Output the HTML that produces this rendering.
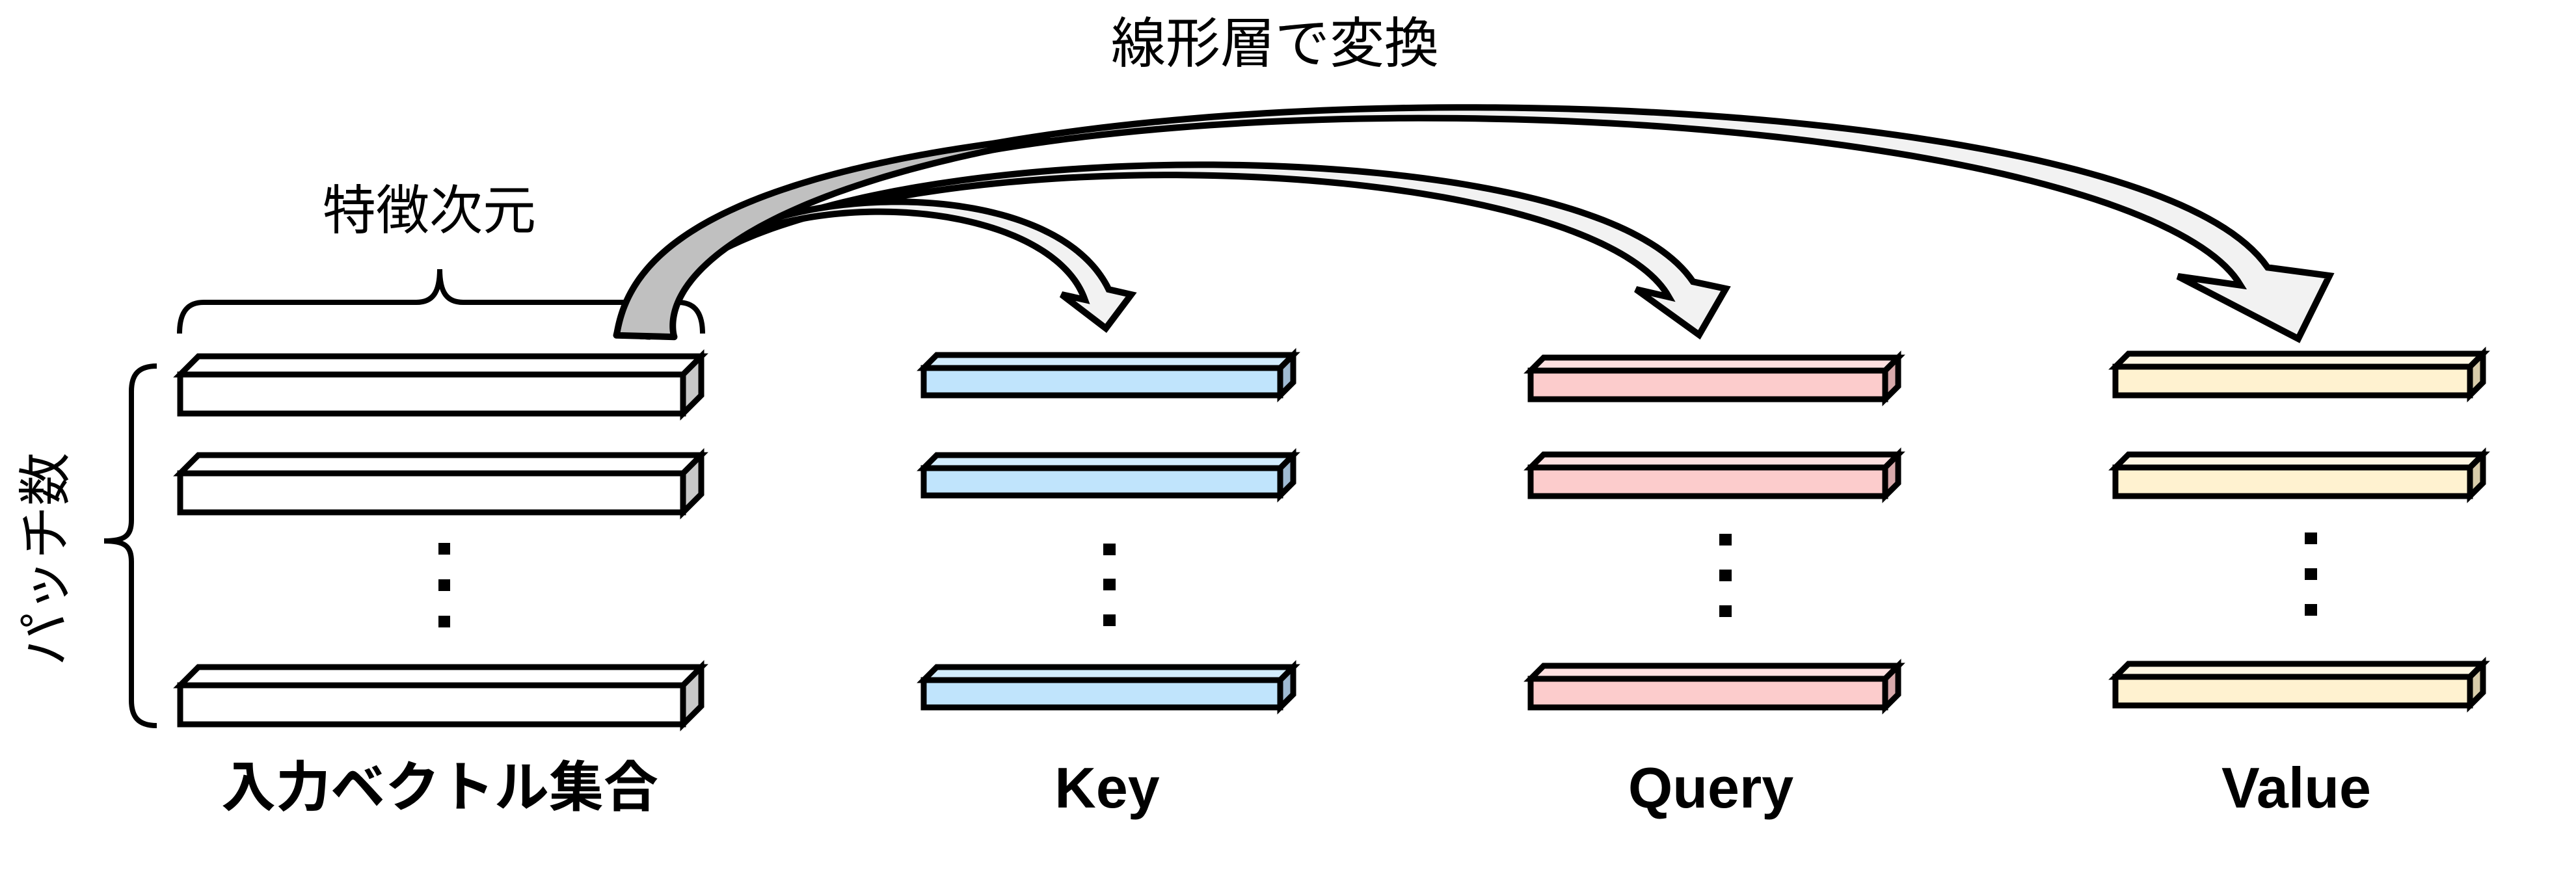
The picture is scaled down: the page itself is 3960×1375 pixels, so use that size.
<!DOCTYPE html>
<html><head><meta charset="utf-8"><style>
html,body{margin:0;padding:0;background:#fff;}
svg{display:block;}
text{font-family:"Liberation Sans","Noto Sans CJK JP",sans-serif;fill:#000;}
</style></head><body>
<svg id="s" width="3960" height="1375" viewBox="0 0 3960 1375" xmlns="http://www.w3.org/2000/svg">
<rect width="3960" height="1375" fill="#fff"/>
<!-- braces -->
<path d="M276,513 C276,480 288,465 313,465 L640,465 C665,465 676,450 676,414 C676,450 687,465 712,465 L1042,465 C1067,465 1080,480 1080,513" fill="none" stroke="#000" stroke-width="8"/>
<path d="M241,563 C212,563 202,577 202,602 L202,800 C202,824 192,832 160,832 C192,832 202,840 202,864 L202,1077 C202,1102 212,1116 241,1116" fill="none" stroke="#000" stroke-width="8"/>
<g id="arrows"></g>
<g id="bars" stroke="#000" stroke-width="9" stroke-linejoin="miter"></g>
<!-- dots -->
<g fill="#000">
<rect x="674" y="835" width="18" height="18"/><rect x="674" y="891" width="18" height="18"/><rect x="674" y="947" width="18" height="18"/>
<rect x="1696" y="836" width="19" height="18"/><rect x="1696" y="890" width="19" height="18"/><rect x="1696" y="945" width="19" height="18"/>
<rect x="2643" y="821" width="19" height="18"/><rect x="2643" y="876" width="19" height="18"/><rect x="2643" y="931" width="19" height="18"/>
<rect x="3543" y="819" width="19" height="18"/><rect x="3543" y="874" width="19" height="18"/><rect x="3543" y="929" width="19" height="18"/>
</g>
<!-- labels -->
<text x="1960" y="96" font-size="84" text-anchor="middle">線形層で変換</text>
<text x="660" y="352" font-size="82" text-anchor="middle">特徴次元</text>
<text transform="translate(98,860) rotate(-90)" font-size="82" text-anchor="middle">パッチ数</text>
<text x="676" y="1240" font-size="84" font-weight="bold" text-anchor="middle">入力ベクトル集合</text>
<text x="1702" y="1242" font-size="88" font-weight="bold" text-anchor="middle">Key</text>
<text x="2630" y="1242" font-size="88" font-weight="bold" text-anchor="middle">Query</text>
<text x="3530" y="1242" font-size="88" font-weight="bold" text-anchor="middle">Value</text>
</svg>
<script>
var NS="http://www.w3.org/2000/svg";
function el(p,tag,attrs){var e=document.createElementNS(NS,tag);for(var k in attrs)e.setAttribute(k,attrs[k]);p.appendChild(e);return e;}
var bars=document.getElementById('bars');
function bar(x,y,w,h,d,f,t,s){
 el(bars,'polygon',{points:[x,y,x+d,y-d,x+w+d,y-d,x+w,y].join(','),fill:t});
 el(bars,'polygon',{points:[x+w,y,x+w+d,y-d,x+w+d,y+h-d,x+w,y+h].join(','),fill:s});
 el(bars,'rect',{x:x,y:y,width:w,height:h,fill:f});
}
[576,728,1054].forEach(function(y){bar(277,y,773,60,28,'#fff','#fff','#c8c8c8');});
[566,720,1046].forEach(function(y){bar(1420,y,548,42,20,'#c0e4fc','#d2ecfd','#9fbad2');});
[570,719,1044].forEach(function(y){bar(2353,y,545,44,20,'#fccccc','#fde0e0','#d7a9ab');});
[564,719,1041].forEach(function(y){bar(3252,y,545,44,20,'#fff2d0','#fff7e3','#d8ccaa');});

var ar=document.getElementById('arrows');
function bez(P,t){var u=1-t;return [u*u*u*P[0][0]+3*u*u*t*P[1][0]+3*u*t*t*P[2][0]+t*t*t*P[3][0],
 u*u*u*P[0][1]+3*u*u*t*P[1][1]+3*u*t*t*P[2][1]+t*t*t*P[3][1]];}
function band(P,t0,t1,wf){var L=[],R=[],N=120;
 for(var i=0;i<=N;i++){var f=i/N;var t=t0+(t1-t0)*f;var a=bez(P,Math.max(0,t-0.002)),b=bez(P,Math.min(1,t+0.002));
  var dx=b[0]-a[0],dy=b[1]-a[1],l=Math.hypot(dx,dy);var nx=-dy/l,ny=dx/l;var p=bez(P,t);var w=wf(f)/2;
  L.push([p[0]+nx*w,p[1]+ny*w]);R.push([p[0]-nx*w,p[1]-ny*w]);}
 return {L:L,R:R};}
function arrow(P,w0,w1,hl,tip,hr,fill){var b=band(P,0,1,function(f){return w0+(w1-w0)*Math.pow(f,2.2);});
 var pts=b.L.concat([hl,tip,hr]).concat(b.R.slice().reverse());
 el(ar,'polygon',{points:pts.map(function(p){return p.join(',')}).join(' '),fill:fill,stroke:'#000','stroke-width':10,'stroke-linejoin':'miter'});}
var PV=[[992,517],[1000,60],[3250,90],[3465,425]];
arrow(PV,6,50,[3348,425],[3533,521],[3581,424],'#f2f2f2');
arrow([[992,517],[1010,200],[2420,180],[2584,445]],6,44,[2515,445],[2612,515],[2653,444],'#f2f2f2');
arrow([[992,517],[1010,280],[1600,250],[1686,453]],6,40,[1632,453],[1700,505],[1739,453],'#f2f2f2');
// grey trunk
var b=band(PV,0,0.34,function(f){return 89-(89-4)*Math.pow(f,0.8);});
var pts=b.L.concat(b.R.slice().reverse());
el(ar,'polygon',{points:pts.map(function(p){return p.join(',')}).join(' '),fill:'#c0c0c0',stroke:'#000','stroke-width':10,'stroke-linejoin':'round'});
</script>
</body></html>
